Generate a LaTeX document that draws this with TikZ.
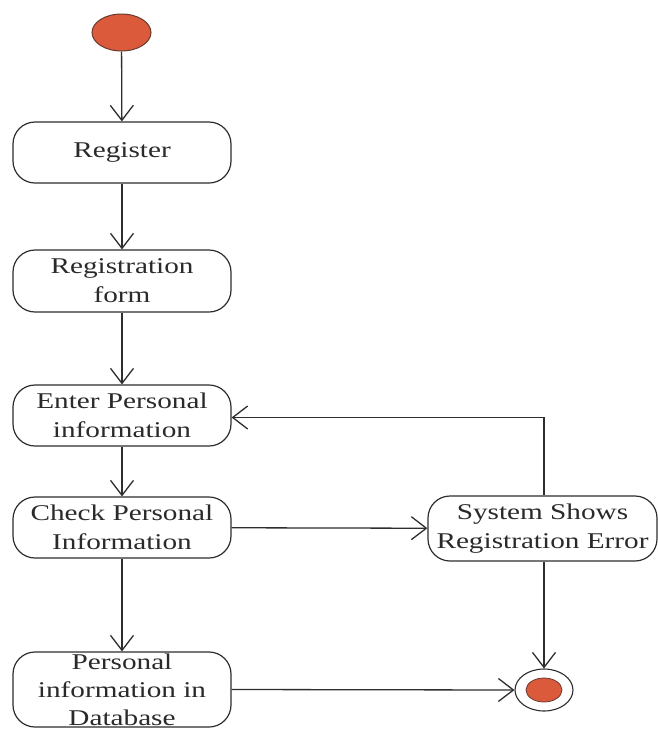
\documentclass[tikz,border=0pt]{standalone}
\usepackage{fontspec}
\setmainfont{Liberation Serif}
\newfontfamily\widefont[FakeStretch=1.3]{Liberation Serif}
\usetikzlibrary{arrows.meta,shapes.geometric}
\definecolor{inkline}{HTML}{2E2E2E}
\definecolor{inktext}{HTML}{2A2A2A}
\definecolor{dotfill}{HTML}{DA5A3B}
\definecolor{dotedge}{HTML}{6A3A30}
\tikzset{
  activity/.style={draw=inkline, line width=1.2pt, rounded corners=22pt,
    minimum width=218pt, inner sep=0pt, align=center, text=inktext,
    font=\widefont\fontsize{22.5}{29}\selectfont},
  flow/.style={draw=inkline, line width=1.3pt,
    -{Straight Barb[length=15pt,width=23pt,line width=1.3pt]}},
  startdot/.style={ellipse, draw=dotedge, line width=1pt, fill=dotfill,
    minimum width=59pt, minimum height=37pt, inner sep=0pt},
  endring/.style={ellipse, draw=inkline, line width=1.1pt, fill=white,
    minimum width=58pt, minimum height=42pt, inner sep=0pt},
  enddot/.style={ellipse, draw=dotedge, line width=0.8pt, fill=dotfill,
    minimum width=36pt, minimum height=24pt, inner sep=0pt}
}
\begin{document}
\begin{tikzpicture}[x=1pt,y=-1pt]
  \useasboundingbox[fill=white] (0,0) rectangle (657,729);

  % initial node
  \node[startdot] (start) at (121.5,32.5) {};

  % activities
  \node[activity, minimum height=61pt] (register) at (122,152.5) {Register};
  \node[activity, minimum height=62pt] (form) at (122,281) {Registration\\form};
  \node[activity, minimum height=61pt] (enter) at (122,415.5) {Enter Personal\\information};
  \node[activity, minimum height=61pt] (check) at (122,527.5) {Check Personal\\Information};
  \node[activity, minimum height=75pt,
        font=\widefont\fontsize{22.5}{28}\selectfont] (db) at (122,689.5)
        {Personal\\information in\\Database};
  \node[activity, minimum width=229pt, minimum height=65pt] (error) at (542.5,528.5) {System Shows\\Registration Error};

  % final node
  \node[endring] (final) at (544,690) {};
  \node[enddot] (finaldot) at (final.center) {};

  % control flow
  \draw[flow] (start) -- (register);
  \draw[flow] (register) -- (form);
  \draw[flow] (form) -- (enter);
  \draw[flow] (enter) -- (check);
  \draw[flow] (check) -- (db);
  \draw[flow] (check) -- (error);
  \draw[flow] (error.south -| final.north) -- (final.north);
  \draw[flow] (db.east) -- (final.west);
  \draw[flow] (error.north -| final.north) |- ([yshift=-2pt]enter.east);
\end{tikzpicture}
\end{document}
